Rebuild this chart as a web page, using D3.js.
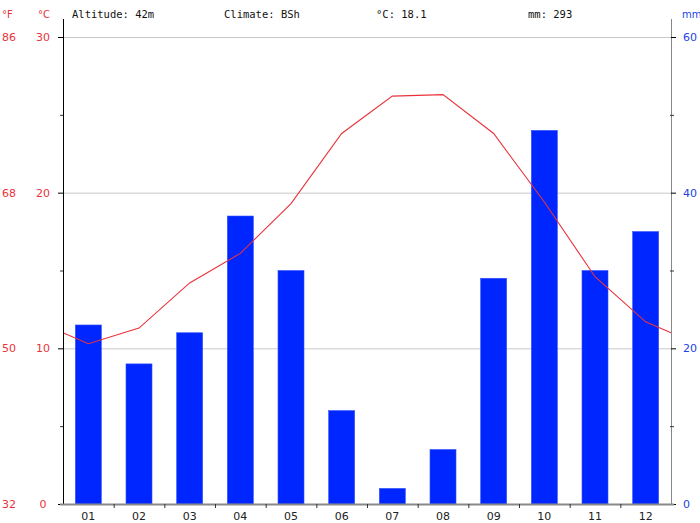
<!DOCTYPE html>
<html><head><meta charset="utf-8">
<script src="https://cdn.jsdelivr.net/npm/d3@7"></script>
<style>body{margin:0;background:#fff}svg{display:block}</style>
</head><body><svg id="c" width="700" height="523"></svg>
<script>
const months = ["01","02","03","04","05","06","07","08","09","10","11","12"];
const precip = [23,18,22,37,30,12,2,7,29,48,30,35];
const temps = [10.3,11.3,14.2,16.1,19.3,23.8,26.2,26.3,23.8,19.4,14.6,11.7];
const cTicks = [0,10,20,30];
const fLabels = ["32","50","68","86"];
const mmTicks = [0,20,40,60];
const header = ["Altitude: 42m","Climate: BSh","°C: 18.1","mm: 293"];

const svg = d3.select("#c");
const L = 63, R = 671, T = 37, B = 504;
const x = d3.scaleBand().domain(months).range([L,R]).paddingInner(0);
const yC = d3.scaleLinear().domain([0,30]).range([B,T]);
const yP = d3.scaleLinear().domain([0,60]).range([B,T]);
const red = "#e8333b", blue = "#2143e6";

// gridlines
svg.append("g").selectAll("line").data(cTicks.filter(d=>d>0)).join("line")
  .attr("x1",L).attr("x2",R).attr("y1",d=>yC(d)+0.5).attr("y2",d=>yC(d)+0.5)
  .attr("stroke","#c8c8c8").attr("stroke-width",1);

// bars
const bw = 26;
svg.append("g").selectAll("rect").data(precip).join("rect")
  .attr("x",(d,i)=>x(months[i])+x.bandwidth()/2-bw/2)
  .attr("width",bw)
  .attr("y",d=>yP(d)).attr("height",d=>B-yP(d))
  .attr("fill","#0026ff").attr("stroke","#3050ff").attr("stroke-width",0.6);

// temperature line, extended to edges with Dec/Jan average
const edge = (temps[0]+temps[11])/2;
const pts = [[L,edge]].concat(temps.map((t,i)=>[x(months[i])+x.bandwidth()/2,t])).concat([[R,edge]]);
svg.append("path").datum(pts)
  .attr("d",d3.line().x(d=>d[0]).y(d=>yC(d[1])))
  .attr("fill","none").attr("stroke",red).attr("stroke-width",1.1);

// left axis
const gl = svg.append("g");
gl.append("line").attr("x1",L+0.5).attr("x2",L+0.5).attr("y1",19).attr("y2",B).attr("stroke","#000");
gl.selectAll(".mj").data(cTicks).join("line").attr("class","mj")
  .attr("x1",L-5).attr("x2",L).attr("y1",d=>yC(d)+0.5).attr("y2",d=>yC(d)+0.5).attr("stroke","#000");
gl.selectAll(".mn").data([5,15,25]).join("line").attr("class","mn")
  .attr("x1",L-3).attr("x2",L).attr("y1",d=>yC(d)+0.5).attr("y2",d=>yC(d)+0.5).attr("stroke","#333");
gl.selectAll(".cl").data(cTicks).join("text").attr("class","cl")
  .attr("x",43).attr("y",d=>yC(d)+4).attr("text-anchor","middle")
  .attr("font-family","DejaVu Sans").attr("font-size",11).attr("fill",red).text(d=>d);
gl.selectAll(".fl").data(fLabels).join("text").attr("class","fl")
  .attr("x",2).attr("y",(d,i)=>yC(cTicks[i])+4)
  .attr("font-family","DejaVu Sans").attr("font-size",11).attr("fill",red).text(d=>d);

// right axis
const gr = svg.append("g");
gr.append("line").attr("x1",R+0.5).attr("x2",R+0.5).attr("y1",19).attr("y2",B).attr("stroke","#888");
gr.selectAll(".mj").data(mmTicks).join("line").attr("class","mj")
  .attr("x1",R).attr("x2",R+5).attr("y1",d=>yP(d)+0.5).attr("y2",d=>yP(d)+0.5).attr("stroke","#000");
gr.selectAll(".mn").data([10,30,50]).join("line").attr("class","mn")
  .attr("x1",R-1).attr("x2",R+3).attr("y1",d=>yP(d)+0.5).attr("y2",d=>yP(d)+0.5).attr("stroke","#333");
gr.selectAll("text").data(mmTicks).join("text")
  .attr("x",683).attr("y",d=>yP(d)+4)
  .attr("font-family","DejaVu Sans").attr("font-size",11).attr("fill",blue).text(d=>d);

// bottom axis
const gb = svg.append("g");
gb.append("line").attr("x1",L-3).attr("x2",R+3).attr("y1",B+0.5).attr("y2",B+0.5).attr("stroke","#888").attr("stroke-width",2);
gb.selectAll(".tk").data(months.slice(1)).join("line").attr("class","tk")
  .attr("x1",d=>x(d)+0.5).attr("x2",d=>x(d)+0.5).attr("y1",B).attr("y2",B+4).attr("stroke","#333");
gb.selectAll("text").data(months).join("text")
  .attr("x",d=>x(d)+x.bandwidth()/2).attr("y",520).attr("text-anchor","middle")
  .attr("font-family","DejaVu Sans").attr("font-size",11).attr("fill","#222").text(d=>d);

// header
svg.append("text").attr("x",2).attr("y",18).attr("font-family","DejaVu Sans").attr("font-size",10).attr("fill",red).text("°F");
svg.append("text").attr("x",38).attr("y",18).attr("font-family","DejaVu Sans").attr("font-size",10).attr("fill",red).text("°C");
svg.append("text").attr("x",682).attr("y",18).attr("font-family","DejaVu Sans").attr("font-size",10).attr("fill",blue).text("mm");
svg.selectAll(".hd").data(header).join("text").attr("class","hd")
  .attr("x",(d,i)=>72+i*152).attr("y",18)
  .attr("font-family","DejaVu Sans Mono").attr("font-size",10.5).attr("fill","#111").text(d=>d);
</script></body></html>
